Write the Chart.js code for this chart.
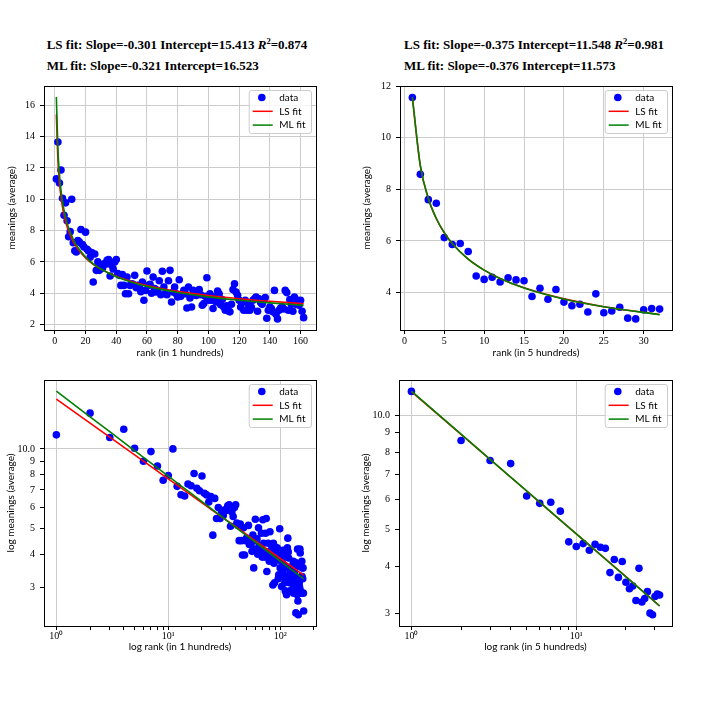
<!DOCTYPE html>
<html><head><meta charset="utf-8">
<script src="https://cdn.jsdelivr.net/npm/chart.js@4.4.1/dist/chart.umd.min.js"></script>
<style>
html,body{margin:0;padding:0;background:#fff}
body{width:707px;height:713px;position:relative;overflow:hidden}
canvas{position:absolute}
.t{position:absolute;font:bold 13px "Liberation Serif",serif;white-space:nowrap;transform:translateX(-50%);line-height:21px;color:#000;text-align:left}
.t sup{font-size:8.5px;line-height:0;vertical-align:5px}
</style></head><body>
<div class="t" style="left:177px;top:34px">LS fit: Slope=-0.301 Intercept=15.413 <i>R</i><sup>2</sup>=0.874<br>ML fit: Slope=-0.321 Intercept=16.523</div>
<div class="t" style="left:534px;top:34px">LS fit: Slope=-0.375 Intercept=11.548 <i>R</i><sup>2</sup>=0.981<br>ML fit: Slope=-0.376 Intercept=11.573</div>
<canvas id="tl" width="353" height="290" style="left:0;top:75px"></canvas>
<canvas id="tr" width="353" height="290" style="left:354px;top:75px"></canvas>
<canvas id="bl" width="353" height="300" style="left:0;top:369px"></canvas>
<canvas id="br" width="353" height="300" style="left:354px;top:369px"></canvas>
<script>
// ---- data: rank groups of 100 words ----
const ranks100 = Array.from({length:162}, (_, i) => i + 1);
const meanings100 = [11.30,13.65,11.04,11.87,10.06,8.98,9.77,8.62,7.61,7.93,
 10.00,7.22,6.71,6.64,7.37,7.26,8.07,7.10,6.95,7.90,
 6.80,6.70,6.30,6.60,4.72,6.50,5.46,6.00,5.46,5.78,
 5.60,5.88,5.85,6.10,6.15,5.10,5.78,5.55,6.00,6.15,
 5.25,5.14,4.50,5.20,4.50,3.97,5.03,3.97,4.50,4.60,
 4.57,5.14,4.35,4.50,4.40,4.10,4.72,3.55,4.18,5.42,
 4.50,4.57,4.00,5.03,4.30,4.08,4.18,4.80,3.90,5.40,
 4.40,3.97,3.90,4.80,5.46,3.44,4.08,4.40,3.97,3.76,
 4.86,3.80,3.97,4.18,3.97,3.06,4.40,3.70,3.12,4.18,
 4.08,3.85,3.97,4.23,3.90,3.23,3.34,3.80,4.99,3.55,
 3.97,3.55,3.02,3.76,3.44,4.14,3.97,3.27,3.60,3.12,
 2.91,3.19,2.87,2.81,3.30,4.23,4.60,4.08,3.87,3.55,
 3.12,3.40,2.91,3.55,2.91,3.29,2.91,3.10,3.55,3.65,
 3.76,2.85,3.65,3.40,3.29,3.55,3.72,2.40,2.91,3.12,
 3.02,2.81,4.18,2.66,2.36,2.91,3.06,3.12,3.00,4.18,
 4.04,2.91,3.59,3.29,2.85,3.76,3.29,3.55,3.23,3.55,
 2.85,2.44];
const fitRanks100 = [1,2,3,4,5,6,8,10,13,16,20,25,30,40,50,60,80,100,120,140,162];
const lsFit100 = [15.413,12.511,11.073,10.154,9.496,8.989,8.243,7.707,7.122,6.689,6.256,5.849,5.536,5.079,4.749,4.494,4.121,3.853,3.648,3.483,3.332];
const mlFit100 = [16.523,13.227,11.612,10.588,9.856,9.296,8.476,7.891,7.254,6.786,6.317,5.879,5.545,5.056,4.706,4.438,4.048,3.767,3.552,3.382,3.227];

// ---- data: rank groups of 500 words ----
const ranks500 = Array.from({length:32}, (_, i) => i + 1);
const meanings500 = [11.56,8.58,7.60,7.46,6.13,5.86,5.90,5.59,4.64,4.51,4.59,4.41,4.57,4.49,4.46,3.85,
 4.17,3.74,4.12,3.63,3.49,3.55,3.25,3.95,3.22,3.29,3.43,3.01,2.98,3.33,3.38,3.36];
const fitRanks500 = [1,2,3,4,5,6,8,10,12,15,20,25,32];
const lsFit500 = [11.548,8.905,7.648,6.866,6.316,5.899,5.295,4.870,4.549,4.183,3.755,3.454,3.148];
const mlFit500 = [11.573,8.918,7.656,6.871,6.320,5.901,5.295,4.869,4.548,4.181,3.752,3.450,3.144];

// ---- tick labels ----
const xTicksTL = [0,20,40,60,80,100,120,140,160];
const yTicksTL = [2,4,6,8,10,12,14,16];
const xTicksTR = [0,5,10,15,20,25,30];
const yTicksTR = [4,6,8,10,12];
const logXTicksBL = [1,2,3,4,5,6,7,8,9,10,20,30,40,50,60,70,80,90,100,200];
const logXTicksBR = [1,2,3,4,5,6,7,8,9,10,20,30];
const logXLabels = {1:'10⁰', 10:'10¹', 100:'10²'};
const logYTicks = [3,4,5,6,7,8,9,10];
const logYLabels = {3:'3',4:'4',5:'5',6:'6',7:'7',8:'8',9:'9',10:'10.0'};
const legendLabels = ['data','LS fit','ML fit'];

const TICK_FONT = {family:'"Liberation Serif", serif', size:10};
const LABEL_FONT = {family:'Lato, "Liberation Sans", sans-serif', size:10};
const GRID = '#cccccc';

const frameLegend = {
  id: 'frameLegend',
  afterDraw(chart) {
    const {ctx, chartArea: a} = chart;
    ctx.save();
    ctx.strokeStyle = '#000'; ctx.lineWidth = 1;
    ctx.strokeRect(Math.round(a.left) + 0.5, Math.round(a.top) + 0.5, Math.round(a.right - a.left), Math.round(a.bottom - a.top));
    ctx.font = '10px Lato, "Liberation Sans", sans-serif';
    const tw = Math.max(...legendLabels.map(l => ctx.measureText(l).width));
    const w = 30 + tw + 6, h = 43;
    const bx = a.right - 4.5 - w, by = a.top + 4.5;
    ctx.beginPath();
    ctx.roundRect(bx, by, w, h, 2.5);
    ctx.fillStyle = 'rgba(255,255,255,0.8)'; ctx.fill();
    ctx.strokeStyle = '#cccccc'; ctx.lineWidth = 1; ctx.stroke();
    const ds = chart.data.datasets;
    const byLabel = l => ds.find(d => d.label === l);
    legendLabels.forEach((l, i) => {
      const yy = by + 7 + i * 13.8;
      const d = byLabel(l);
      if (l === 'data') {
        ctx.beginPath(); ctx.arc(bx + 12.6, yy, 3.8, 0, Math.PI * 2);
        ctx.fillStyle = d.backgroundColor; ctx.fill();
      } else {
        ctx.beginPath(); ctx.moveTo(bx + 3.5, yy); ctx.lineTo(bx + 23.5, yy);
        ctx.strokeStyle = d.borderColor; ctx.lineWidth = 1.5; ctx.stroke();
      }
      ctx.fillStyle = '#000'; ctx.textBaseline = 'middle'; ctx.textAlign = 'left';
      ctx.fillText(l, bx + 30, yy);
    });
    ctx.restore();
  }
};

function build(id, o) {
  const majorX = o.majorX, majorY = o.majorY;
  new Chart(document.getElementById(id), {
    type: 'scatter',
    data: { datasets: [
      {label:'ML fit', data: o.fitX.map((x, i) => ({x, y: o.ml[i]})), showLine:true, borderColor:'#008000', borderWidth:1.6,
       pointRadius:0, order:0, tension:0, cubicInterpolationMode: o.smooth ? 'monotone' : 'default'},
      {label:'LS fit', data: o.fitX.map((x, i) => ({x, y: o.ls[i]})), showLine:true, borderColor:'#ff0000', borderWidth:1.6,
       pointRadius:0, order:1, tension:0, cubicInterpolationMode: o.smooth ? 'monotone' : 'default'},
      {label:'data', data: o.x.map((x, i) => ({x, y: o.y[i]})), pointRadius:3.8, pointHoverRadius:3.8,
       backgroundColor:'#0000ff', borderWidth:0, order:2}
    ]},
    options: {
      responsive:false, animation:false, devicePixelRatio:1, events:[],
      layout:{padding:{top:o.padTop, right:o.padRight, left:0, bottom:0}},
      plugins:{legend:{display:false}, tooltip:{enabled:false}},
      scales:{
        x:{type:o.xType, min:o.xMin, max:o.xMax, position:'bottom',
           afterBuildTicks: s => { s.ticks = o.xTicks.map(v => ({value:v})); },
           afterFit: s => { s.height = o.xH; },
           ticks:{autoSkip:false, maxRotation:0, minRotation:0, padding:o.xTickPad, color:'#000', font:TICK_FONT,
                  callback: v => o.xLab(v)},
           grid:{color: c => (c.tick && majorX.includes(c.tick.value)) ? GRID : 'rgba(0,0,0,0)', lineWidth:1,
                 tickColor:'#000', tickLength:4},
           border:{display:false},
           title:{display:true, text:o.xTitle, font:LABEL_FONT, color:'#000', padding:{top:0, bottom:o.xTitlePad}}},
        y:{type:o.yType, min:o.yMin, max:o.yMax, position:'left',
           afterBuildTicks: s => { s.ticks = o.yTicks.map(v => ({value:v})); },
           afterFit: s => { s.width = o.yW; },
           ticks:{autoSkip:false, padding:5, color:'#000', font:TICK_FONT, callback: v => o.yLab(v)},
           grid:{color: c => (c.tick && majorY.includes(c.tick.value)) ? GRID : 'rgba(0,0,0,0)', lineWidth:1,
                 tickColor:'#000', tickLength:4},
           border:{display:false},
           title:{display:true, text:o.yTitle, font:LABEL_FONT, color:'#000', padding:{top:o.yTitlePad, bottom:0}}}
      }
    },
    plugins:[frameLegend]
  });
}

build('tl', {x:ranks100, y:meanings100, fitX:fitRanks100, ls:lsFit100, ml:mlFit100, smooth:true,
  xType:'linear', yType:'linear', xMin:-7.05, xMax:170.05, yMin:1.652, yMax:17.231,
  xTicks:xTicksTL, yTicks:yTicksTL, majorX:xTicksTL, majorY:yTicksTL, xLab:v => String(v), yLab:v => String(v),
  xTitle:'rank (in 1 hundreds)', yTitle:'meanings (average)',
  padTop:10, padRight:37, yW:44, xH:35, xTickPad:1, xTitlePad:6, yTitlePad:6});
build('tr', {x:ranks500, y:meanings500, fitX:fitRanks500, ls:lsFit500, ml:mlFit500, smooth:true,
  xType:'linear', yType:'linear', xMin:-0.55, xMax:33.55, yMin:2.55, yMax:12.003,
  xTicks:xTicksTR, yTicks:yTicksTR, majorX:xTicksTR, majorY:yTicksTR, xLab:v => String(v), yLab:v => String(v),
  xTitle:'rank (in 5 hundreds)', yTitle:'meanings (average)',
  padTop:10, padRight:35, yW:46, xH:35, xTickPad:1, xTitlePad:6, yTitlePad:7});
build('bl', {x:ranks100, y:meanings100, fitX:fitRanks100, ls:lsFit100, ml:mlFit100, smooth:false,
  xType:'logarithmic', yType:'logarithmic', xMin:0.7753, xMax:208.9, yMin:2.1412, yMax:18.215,
  xTicks:logXTicksBL, yTicks:logYTicks, majorX:[1,10,100], majorY:[10],
  xLab:v => logXLabels[v] || '', yLab:v => logYLabels[v] || '',
  xTitle:'log rank (in 1 hundreds)', yTitle:'log meanings (average)',
  padTop:10, padRight:37, yW:44, xH:43, xTickPad:0, xTitlePad:16, yTitlePad:4.5});
build('br', {x:ranks500, y:meanings500, fitX:fitRanks500, ls:lsFit500, ml:mlFit500, smooth:false,
  xType:'logarithmic', yType:'logarithmic', xMin:0.8408, xMax:38.06, yMin:2.7845, yMax:12.387,
  xTicks:logXTicksBR, yTicks:logYTicks, majorX:[1,10], majorY:[10],
  xLab:v => logXLabels[v] || '', yLab:v => logYLabels[v] || '',
  xTitle:'log rank (in 5 hundreds)', yTitle:'log meanings (average)',
  padTop:9, padRight:35, yW:45, xH:43, xTickPad:0, xTitlePad:16, yTitlePad:5.5});
</script>
</body></html>
